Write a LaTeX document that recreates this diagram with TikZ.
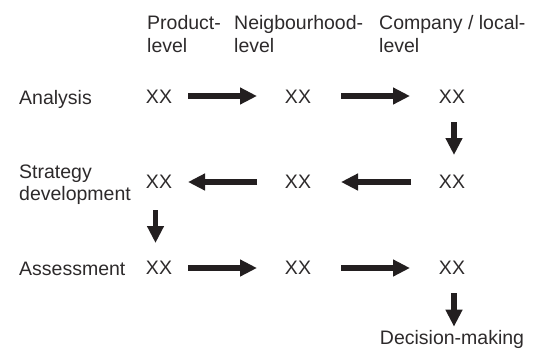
\documentclass[tikz,border=0pt]{standalone}
\usepackage{fontspec}
\setmainfont{Liberation Sans}
\usetikzlibrary{arrows.meta}
\definecolor{ink}{RGB}{35,31,32}
\definecolor{txt}{RGB}{45,42,43}
\tikzset{
  lbl/.style={anchor=base west, inner sep=0pt, text=txt, font=\fontsize{19.5}{22}\selectfont},
  xx/.style={anchor=center, inner sep=0pt, text=txt, font=\fontsize{19.5}{22}\selectfont},
  arr/.style={draw=ink, line width=5.5pt, -{Triangle[length=17pt,width=16pt]}},
}
\begin{document}
\begin{tikzpicture}[x=1pt,y=-1pt]
\useasboundingbox (0,0) rectangle (544,349);
% headers
\node[lbl] (h1a) at (147,29.5) {Product-};
\node[lbl] (h1b) at (147,52.5) {level};
\node[lbl] (h2a) at (234,29.5) {Neigbourhood-};
\node[lbl] (h2b) at (234,52.5) {level};
\node[lbl] (h3a) at (379,29.5) {Company / local-};
\node[lbl] (h3b) at (379,52.5) {level};
% row labels
\node[lbl] (r1) at (19,104) {Analysis};
\node[lbl] (r2a) at (19,178.5) {Strategy};
\node[lbl] (r2b) at (19,200) {development};
\node[lbl] (r3) at (19,275) {Assessment};
% cells
\node[xx] (a1) at (159,97) {XX};
\node[xx] (a2) at (298,97) {XX};
\node[xx] (a3) at (452,97) {XX};
\node[xx] (b1) at (159,182) {XX};
\node[xx] (b2) at (298,182) {XX};
\node[xx] (b3) at (452,182) {XX};
\node[xx] (c1) at (159,268) {XX};
\node[xx] (c2) at (298,268) {XX};
\node[xx] (c3) at (452,268) {XX};
\node[anchor=base, inner sep=0pt, text=txt, font=\fontsize{19.5}{22}\selectfont] (dec) at (452,344) {Decision-making};
% arrows
\draw[arr, shorten <=29pt, shorten >=41pt, transform canvas={yshift=1pt}] (a1.center) -- (a2.center);
\draw[arr, shorten <=43pt, shorten >=42pt, transform canvas={yshift=1pt}] (a2.center) -- (a3.center);
\draw[arr, shorten <=25pt, shorten >=27pt, transform canvas={xshift=2pt}] (a3.center) -- (b3.center);
\draw[arr, shorten <=41pt, shorten >=43pt] (b3.center) -- (b2.center);
\draw[arr, shorten <=41pt, shorten >=29pt] (b2.center) -- (b1.center);
\draw[arr, shorten <=28pt, shorten >=25pt, transform canvas={xshift=-3.5pt}] (b1.center) -- (c1.center);
\draw[arr, shorten <=29pt, shorten >=41pt] (c1.center) -- (c2.center);
\draw[arr, shorten <=43pt, shorten >=42pt] (c2.center) -- (c3.center);
\draw[arr, shorten <=25pt, shorten >=3pt, transform canvas={xshift=2pt}] (c3.center) -- (c3.center |- dec.north);
\end{tikzpicture}
\end{document}
